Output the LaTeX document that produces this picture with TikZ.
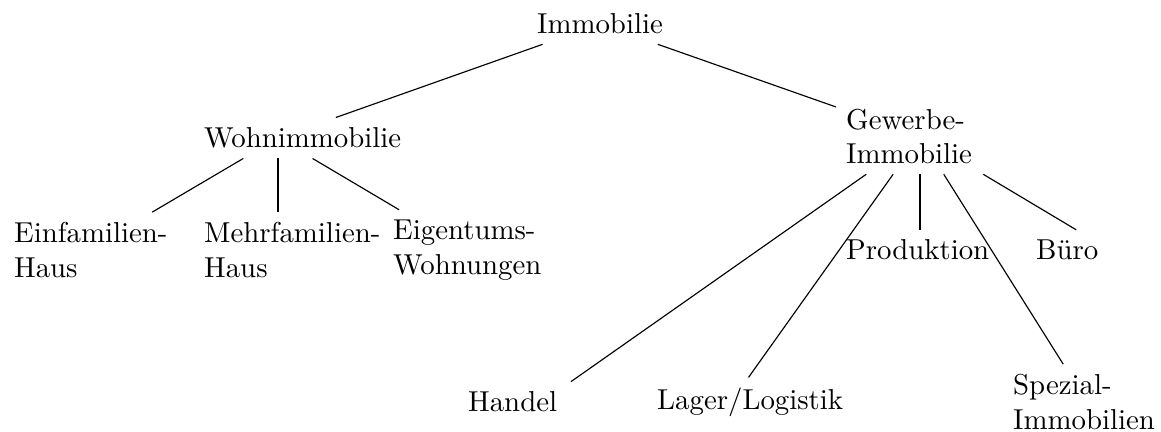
\documentclass[tikz,border=0pt]{standalone}
\begin{document}
\hyphenpenalty=10000
\exhyphenpenalty=10000
\begin{tikzpicture}[x=0.347pt,y=-0.347pt,
  rootnode/.style={inner sep=3.33pt},
  leafnode/.style={text width=1.8cm, align=left, inner sep=3.33pt}]
\useasboundingbox (0,0) rectangle (1161,432);
% level 0
\node[rootnode] (imm) at (600,24) {Immobilie};
% level 1
\node[leafnode] (wohn) at (278,138) {Wohnimmobilie};
\node[leafnode] (gew) at (920,136.5) {Gewerbe-\\Immobilie};
% level 2 (Wohnimmobilie)
\node[leafnode] (ein) at (88,250) {Einfamilien-\\Haus};
\node[leafnode] (mehr) at (278,250) {Mehrfamilien-\\Haus};
\node[leafnode] (eig) at (467,250) {Eigentums-\\Wohnungen};
% level 2 (Gewerbe-Immobilie)
\node[leafnode] (handel) at (542,402) {Handel};
\node[leafnode] (lager) at (731,402) {Lager/Logistik};
\node[leafnode] (prod) at (920,250) {Produktion};
\node[leafnode] (spez) at (1087,402) {Spezial-\\Immobilien};
\node[leafnode] (buero) at (1110,250) {Büro};
% edges
\draw (imm) -- (wohn);
\draw (imm) -- (gew);
\draw (wohn) -- (ein);
\draw (wohn) -- (mehr);
\draw (wohn) -- (eig);
\draw (gew) -- (handel);
\draw (gew) -- (lager);
\draw (gew) -- (prod);
\draw (gew) -- (spez);
\draw (gew) -- (buero);
\end{tikzpicture}
\end{document}
